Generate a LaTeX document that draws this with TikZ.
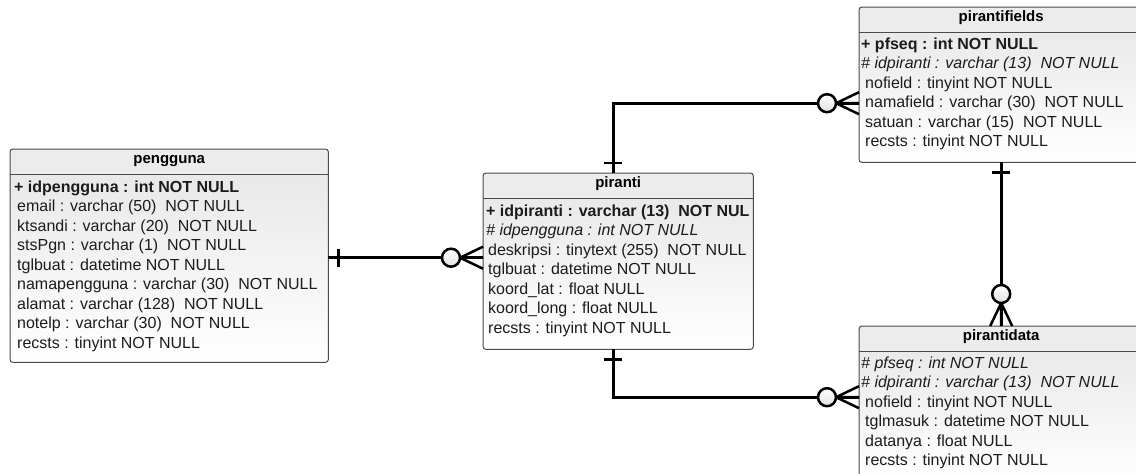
\documentclass[tikz,border=0pt]{standalone}
\usepackage{fontspec}
\setmainfont{Liberation Sans}
\definecolor{boxline}{HTML}{4A4A4A}
\definecolor{ink}{HTML}{1C1C1C}
\definecolor{headgray}{HTML}{ECECEC}

% one table: name, left, top, width, height, title
\newcommand{\erdtable}[6]{%
  \node[tablebody, minimum width=#4pt, minimum height=#5pt] (#1) at (#2,#3) {};
  \fill[headgray, rounded corners=3pt] (#1.north west) rectangle ([yshift=-25pt]#1.north east);
  \draw[boxline, line width=1pt] ([yshift=-25pt]#1.north west) -- ([yshift=-25pt]#1.north east);
  \draw[tableborder] (#1.north west) rectangle (#1.south east);
  \node[title] (#1-title) at ([yshift=-14pt]#1.north) {#6};
}

\begin{document}
\begin{tikzpicture}
  [x=1pt, y=-1pt,
   font=\fontsize{16}{19.5}\selectfont,
   tablebody/.style = {anchor=north west, inner sep=0pt,
                       top color=black!10, bottom color=white},
   tableborder/.style = {draw=boxline, line width=1pt, rounded corners=3pt},
   title/.style = {anchor=base, inner sep=0pt, text=black,
                   font=\fontsize{15}{18}\selectfont\bfseries},
   row/.style = {anchor=base west, inner sep=0pt, text=ink},
   keyrow/.style = {row, font=\fontsize{16}{19.5}\selectfont\bfseries},
   fkrow/.style = {row, font=\fontsize{16}{19.5}\selectfont\itshape},
   relline/.style = {line width=2.8pt, black},
   zeromany/.pic = {
     \draw[line width=2.5pt] (-23,0) -- (0,-11) (-23,0) -- (0,0) (-23,0) -- (0,11);
     \draw[line width=2.5pt, top color=white, bottom color=black!12] (-32,0) circle [radius=9];
   },
   onebar/.pic = {\draw[line width=2.5pt] (10,-9) -- (10,9);}]
  \clip (0,0) rectangle (1136,474);

  % tables
  \erdtable{pengguna}{10}{149}{318}{213}{pengguna}
  \node[keyrow] (pengguna-r0) at ([xshift=4pt, yshift=-43pt]pengguna.north west)
    {+ idpengguna : int NOT NULL};
  \foreach \txt [count=\i] in {email : varchar (50)~ NOT NULL,
      ktsandi : varchar (20)~ NOT NULL, stsPgn : varchar (1)~ NOT NULL,
      tglbuat : datetime NOT NULL, namapengguna : varchar (30)~ NOT NULL,
      alamat : varchar (128)~ NOT NULL, notelp : varchar (30)~ NOT NULL,
      recsts : tinyint NOT NULL}
    \node[row] (pengguna-r\i) at ([xshift=7pt, yshift=-43pt-19.5pt*\i]pengguna.north west) {\txt};

  \erdtable{piranti}{483}{173}{270}{176}{piranti}
  \node[keyrow] (piranti-r0) at ([xshift=3pt, yshift=-43pt]piranti.north west)
    {+ idpiranti : varchar (13)~ NOT NUL};
  \node[fkrow] (piranti-r1) at ([xshift=3pt, yshift=-62.5pt]piranti.north west)
    {\# idpengguna : int NOT NULL};
  \foreach \txt [count=\i from 2] in {deskripsi : tinytext (255)~ NOT NULL,
      tglbuat : datetime NOT NULL, koord\_lat : float NULL,
      koord\_long : float NULL, recsts : tinyint NOT NULL}
    \node[row] (piranti-r\i) at ([xshift=5pt, yshift=-43pt-19.5pt*\i]piranti.north west) {\txt};

  \erdtable{pirantifields}{859}{7}{284}{155}{pirantifields}
  \node[keyrow] (pirantifields-r0) at ([xshift=2pt, yshift=-42pt]pirantifields.north west)
    {+ pfseq : int NOT NULL};
  \node[fkrow] (pirantifields-r1) at ([xshift=2pt, yshift=-61.5pt]pirantifields.north west)
    {\# idpiranti : varchar (13)~ NOT NULL};
  \foreach \txt [count=\i from 2] in {nofield : tinyint NOT NULL,
      namafield : varchar (30)~ NOT NULL, satuan : varchar (15)~ NOT NULL,
      recsts : tinyint NOT NULL}
    \node[row] (pirantifields-r\i) at ([xshift=6pt, yshift=-42pt-19.5pt*\i]pirantifields.north west) {\txt};

  \erdtable{pirantidata}{859}{326}{284}{156}{pirantidata}
  \node[fkrow] (pirantidata-r0) at ([xshift=2pt, yshift=-42pt]pirantidata.north west)
    {\# pfseq : int NOT NULL};
  \node[fkrow] (pirantidata-r1) at ([xshift=2pt, yshift=-61.5pt]pirantidata.north west)
    {\# idpiranti : varchar (13)~ NOT NULL};
  \foreach \txt [count=\i from 2] in {nofield : tinyint NOT NULL,
      tglmasuk : datetime NOT NULL, datanya : float NULL,
      recsts : tinyint NOT NULL}
    \node[row] (pirantidata-r\i) at ([xshift=6pt, yshift=-42pt-19.5pt*\i]pirantidata.north west) {\txt};

  % relations
  \coordinate (pg-out) at ([yshift=-2pt]pengguna.east);
  \coordinate (pr-in) at (pg-out -| piranti.west);
  \draw[relline] (pg-out) -- (pr-in);
  \pic at (pg-out) {onebar};
  \pic at (pr-in) {zeromany};

  \coordinate (pr-top) at ([xshift=-5pt]piranti.north);
  \coordinate (pf-in) at ([yshift=-18.5pt]pirantifields.west);
  \draw[relline] (pr-top) |- (pf-in);
  \pic[rotate=90] at (pr-top) {onebar};
  \pic at (pf-in) {zeromany};

  \coordinate (pr-bot) at ([xshift=-5pt]piranti.south);
  \coordinate (pd-in) at ([yshift=7pt]pirantidata.west);
  \draw[relline] (pr-bot) |- (pd-in);
  \pic[rotate=-90] at (pr-bot) {onebar};
  \pic at (pd-in) {zeromany};

  \coordinate (pf-bot) at (pirantifields.south);
  \coordinate (pd-top) at (pirantidata.north);
  \draw[relline] (pf-bot) -- (pd-top);
  \pic[rotate=-90] at (pf-bot) {onebar};
  \pic[rotate=-90] at (pd-top) {zeromany};
\end{tikzpicture}
\end{document}
